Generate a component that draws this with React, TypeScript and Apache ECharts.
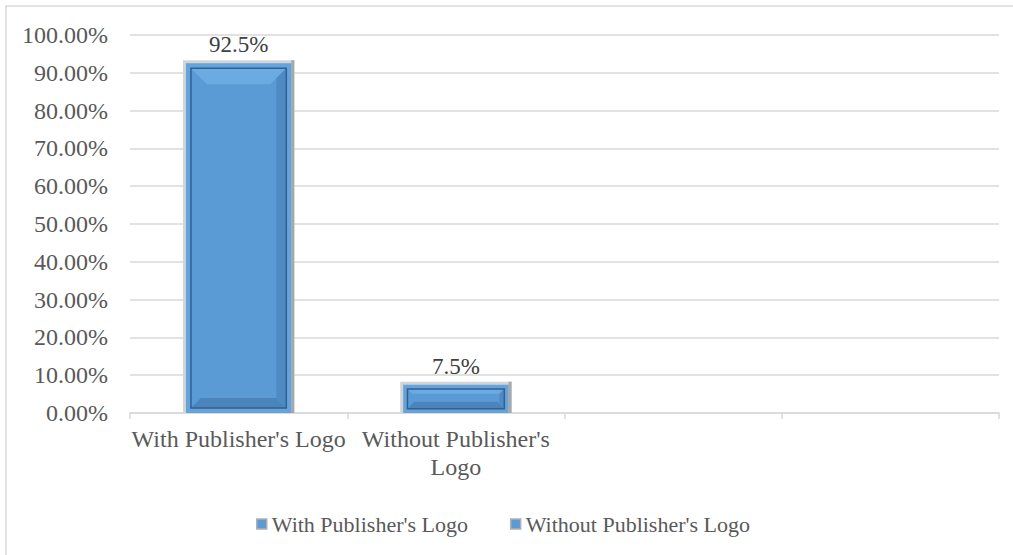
import React, { useEffect, useRef } from "react";
import * as echarts from "echarts";

const categories = ["With Publisher's Logo", "Without Publisher's\nLogo", "", ""];
const seriesNames = ["With Publisher's Logo", "Without Publisher's Logo"];
const withLogo: (number | null)[] = [92.5, null, null, null];
const withoutLogo: (number | null)[] = [null, 7.5, null, null];
const yMin = 0;
const yMax = 100;
const yInterval = 10;

const FONT = '"Liberation Serif", "Times New Roman", serif';

function toData(arr: (number | null)[]) {
  const out: number[][] = [];
  arr.forEach((v, i) => {
    if (v != null) out.push([i, v]);
  });
  return out;
}

function renderBevelBar(params: any, api: any) {
  const ci = api.value(0);
  const v = api.value(1);
  const top = api.coord([ci, v]);
  const base = api.coord([ci, 0]);
  const band = api.size([1, 0])[0];
  const w = band * 0.485;
  const x0 = top[0] - w / 2;
  const x1 = top[0] + w / 2;
  const y0 = top[1];
  const y1 = base[1];
  const h = y1 - y0;
  const r = 3;
  const f = Math.min(5, h * 0.15);
  const xi0 = x0 + f;
  const xi1 = x1 - f;
  const yi0 = y0 + f;
  const yi1 = y1 - f;
  const ih = yi1 - yi0;
  const t = Math.min(16, ih * 0.25);
  const t2 = Math.min(10, ih * 0.35);
  const s = Math.min(t, t2);
  return {
    type: "group",
    children: [
      { type: "rect", shape: { x: x0 - r, y: y0 - r, width: w + 2 * r, height: h + r }, style: { fill: "#d4d4d4" } },
      { type: "rect", shape: { x: x1, y: y0 - r, width: r, height: h + r }, style: { fill: "#a8a8a8" } },
      { type: "rect", shape: { x: x0, y: y0, width: w, height: h }, style: { fill: "#64a3dc" } },
      { type: "rect", shape: { x: xi0, y: yi0, width: xi1 - xi0, height: ih }, style: { fill: "#5b9bd5" } },
      { type: "polygon", shape: { points: [[xi0, yi0], [xi1, yi0], [xi1 - t, yi0 + t], [xi0 + t, yi0 + t]] }, style: { fill: "#6caae2" } },
      { type: "polygon", shape: { points: [[xi0, yi1], [xi1, yi1], [xi1 - t2, yi1 - t2], [xi0 + t2, yi1 - t2]] }, style: { fill: "#4a84bb" } },
      { type: "polygon", shape: { points: [[xi1, yi0], [xi1, yi1], [xi1 - s, yi1 - s], [xi1 - s, yi0 + s]] }, style: { fill: "#4f8ac3" } },
      {
        type: "rect",
        shape: { x: xi0, y: yi0, width: xi1 - xi0, height: ih },
        style: { fill: "none", stroke: "#30608f", lineWidth: 1.5 },
      },
      {
        type: "text",
        style: {
          text: `${v}%`,
          x: top[0],
          y: y0 - 7,
          align: "center",
          verticalAlign: "bottom",
          fontSize: 23,
          fontFamily: FONT,
          fill: "#404040",
        },
      },
    ],
  };
}

export default function App() {
  const ref = useRef<HTMLDivElement>(null);
  useEffect(() => {
    if (!ref.current) return;
    const chart = echarts.init(ref.current, undefined, { renderer: "svg" });
    chart.setOption({
      animation: false,
      backgroundColor: "#ffffff",
      textStyle: { fontFamily: FONT },
      graphic: [
        {
          type: "rect",
          silent: true,
          z: -10,
          shape: { x: 6, y: 6, width: 1030, height: 570 },
          style: { fill: "none", stroke: "#d9d9d9", lineWidth: 1.5 },
        },
      ],
      grid: { left: 130, right: 14, top: 35, bottom: 142, containLabel: false },
      xAxis: {
        type: "category",
        data: categories,
        boundaryGap: true,
        axisLine: { show: true, lineStyle: { color: "#d9d9d9", width: 1.5 } },
        axisTick: { show: true, length: 6, lineStyle: { color: "#d9d9d9", width: 1.5 } },
        axisLabel: {
          interval: 0,
          fontSize: 24,
          lineHeight: 28,
          color: "#595959",
          fontFamily: FONT,
          margin: 12,
        },
        splitLine: { show: false },
      },
      yAxis: {
        type: "value",
        min: yMin,
        max: yMax,
        interval: yInterval,
        axisLine: { show: false },
        axisTick: { show: false },
        axisLabel: {
          formatter: (v: number) => `${v.toFixed(2)}%`,
          fontSize: 24,
          color: "#595959",
          fontFamily: FONT,
          margin: 22,
        },
        splitLine: { lineStyle: { color: "#d9d9d9", width: 1.5 } },
      },
      legend: {
        top: 508,
        left: 251,
        itemWidth: 10,
        itemHeight: 10,
        itemGap: 42,
        data: seriesNames.map((n) => ({ name: n, icon: "rect" })),
        itemStyle: { color: "#5b9bd5", borderColor: "#b0b0b0", borderWidth: 1.5 },
        textStyle: { fontSize: 22, color: "#595959", fontFamily: FONT },
      },
      series: [
        {
          name: seriesNames[0],
          type: "custom",
          renderItem: renderBevelBar,
          itemStyle: { color: "#5b9bd5" },
          encode: { x: 0, y: 1 },
          data: toData(withLogo),
        },
        {
          name: seriesNames[1],
          type: "custom",
          renderItem: renderBevelBar,
          itemStyle: { color: "#5b9bd5" },
          encode: { x: 0, y: 1 },
          data: toData(withoutLogo),
        },
      ],
    });
    return () => chart.dispose();
  }, []);
  return (
    <div
      ref={ref}
      style={{ position: "absolute", left: 0, top: 0, width: 1013, height: 555, background: "#fff" }}
    />
  );
}
